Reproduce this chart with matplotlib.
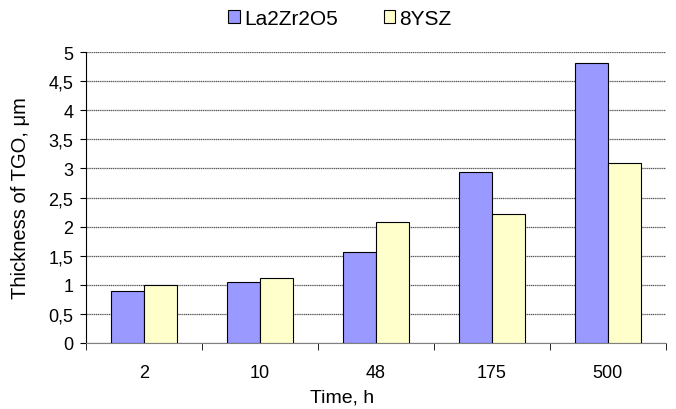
import matplotlib
matplotlib.use("Agg")
import matplotlib.pyplot as plt
import numpy as np
from matplotlib.patches import Patch

categories = ["2", "10", "48", "175", "500"]
la2zr2o5 = [0.885, 1.04, 1.57, 2.94, 4.82]
ysz8 = [0.99, 1.11, 2.08, 2.21, 3.10]
yticks = [0, 0.5, 1, 1.5, 2, 2.5, 3, 3.5, 4, 4.5, 5]
ytick_labels = ["0", "0,5", "1", "1,5", "2", "2,5", "3", "3,5", "4", "4,5", "5"]

plt.rcParams['font.family'] = ['Liberation Sans', 'DejaVu Sans']

fig = plt.figure(figsize=(6.76, 4.10), dpi=100)
ax = fig.add_axes([0.1272, 0.1617, 0.8576, 0.7083])

x = np.arange(len(categories))
w = 0.285
c1, c2 = '#9999FF', '#FFFFCC'
ax.bar(x - w/2, la2zr2o5, w, color=c1, edgecolor='black', linewidth=0.8, zorder=3)
ax.bar(x + w/2, ysz8, w, color=c2, edgecolor='black', linewidth=0.8, zorder=3)

fs = 13
ax.set_xlim(-0.5, len(categories) - 0.5)
ax.set_ylim(0, 5)
ax.set_yticks(yticks)
ax.set_yticklabels(ytick_labels, fontsize=fs)
ax.set_xticks(x)
ax.set_xticklabels(categories, fontsize=fs)
ax.tick_params(axis='x', length=0, pad=15)
ax.set_xticks(np.arange(-0.5, len(categories), 1), minor=True)
ax.tick_params(axis='x', which='minor', length=5, direction='out', color='black')
ax.tick_params(axis='y', length=4, direction='out', color='black', pad=5)

ax.grid(axis='y', color='#555555', linewidth=0.9, linestyle=(0, (1, 0.5)), zorder=0)
for s in ['top', 'right']:
    ax.spines[s].set_visible(False)
ax.spines['left'].set_color('black')
ax.spines['bottom'].set_color('#808080')

fig.text(342/676, 1 - 398/410, "Time, h", fontsize=14, ha='center', va='center')
fig.text(21/676, 1 - 198.5/410, "Thickness of TGO, μm", fontsize=14.5,
         ha='center', va='center', rotation=90)

handles = [Patch(facecolor=c1, edgecolor='black', linewidth=0.8, label='La2Zr2O5'),
           Patch(facecolor=c2, edgecolor='black', linewidth=0.8, label='8YSZ')]
fig.legend(handles=handles, loc='center', bbox_to_anchor=(0.503, 0.953), ncol=2,
           frameon=False, fontsize=15, handlelength=0.55, handleheight=0.55,
           handletextpad=0.2, columnspacing=2.2, borderpad=0, borderaxespad=0)

fig.savefig("out.png", dpi=100)
